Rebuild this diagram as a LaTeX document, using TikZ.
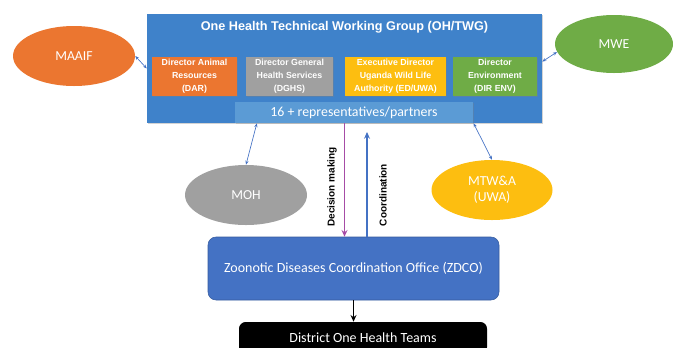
\documentclass[tikz,border=0pt]{standalone}
\usepackage{fontspec}
\setmainfont{Carlito}
\newfontfamily\arialfont{Liberation Sans}
\usetikzlibrary{arrows.meta,shapes.geometric,shadows}

\definecolor{twgblue}{HTML}{3F82CA}
\definecolor{repblue}{HTML}{5B9BD5}
\definecolor{zdcoblue}{HTML}{4472C4}
\definecolor{darorange}{HTML}{EB7630}
\definecolor{dghsgray}{HTML}{A0A0A0}
\definecolor{uwagold}{HTML}{FDBE10}
\definecolor{envgreen}{HTML}{6FAC46}
\definecolor{dmpurple}{HTML}{A64CA6}

\tikzset{
  dirbox/.style={draw=none, text=white, align=center, minimum height=29.25pt,
    inner sep=1pt, font=\arialfont\bfseries\fontsize{6.6}{9.6}\selectfont,
    drop shadow={opacity=0.35, shadow xshift=0.8pt, shadow yshift=-0.8pt}},
  partner/.style={ellipse, draw=none, text=white, inner sep=0pt,
    minimum width=91.5pt, minimum height=45pt, align=center,
    font=\fontsize{10.3}{12}\selectfont},
  link/.style={{Stealth[length=3pt,width=2.4pt]}-{Stealth[length=3pt,width=2.4pt]},
    draw=zdcoblue, line width=0.5pt},
  flow/.style={-{Stealth[length=5pt,width=4.4pt]}, line width=1.4pt},
  flowlabel/.style={rotate=90, font=\arialfont\bfseries\fontsize{7.5}{9}\selectfont}
}

\begin{document}
\begin{tikzpicture}[x=0.75pt,y=-0.75pt]
		%%%%% START %%%%%
		\useasboundingbox (0,0) rectangle (673,347);
		\clip (0,0) rectangle (673,347);

		% working group
		\node[fill=twgblue, minimum width=296.25pt, minimum height=81.75pt,
		  drop shadow={opacity=0.35, shadow xshift=1pt, shadow yshift=-1pt}] (twg) at (344.5,68.5) {};
		\node[text=white, font=\arialfont\bfseries\fontsize{9.5}{11}\selectfont] (title) at (344.5,27) {One Health Technical Working Group (OH/TWG)};

		\node[dirbox, fill=darorange, minimum width=63.75pt] (dar) at (194.5,76) {Director Animal\\Resources\\(DAR)};
		\node[dirbox, fill=dghsgray, minimum width=65.25pt] (dghs) at (289.5,76) {Director General\\Health Services\\(DGHS)};
		\node[dirbox, fill=uwagold, minimum width=75.75pt] (uwa) at (395.5,76) {Executive Director\\Uganda Wild Life\\Authority (ED/UWA)};
		\node[dirbox, fill=envgreen, minimum width=63pt] (env) at (495,76) {Director\\Environment\\(DIR ENV)};

		\node[fill=repblue, text=white, minimum width=178.5pt, minimum height=15.75pt, inner sep=0pt,
		  font=\fontsize{10.4}{12}\selectfont,
		  drop shadow={opacity=0.3, shadow xshift=0.8pt, shadow yshift=-0.8pt}] (reps) at (354,112.5) {16 + representatives/partners};

		% ministries
		\node[partner, fill=darorange] (maaif) at (74,56) {MAAIF};
		\node[partner, fill=envgreen, minimum width=88.5pt, minimum height=43.5pt] (mwe) at (614,44) {MWE};
		\node[partner, fill=dghsgray] (moh) at (246,195) {MOH};
		\node[partner, fill=uwagold, minimum width=90.75pt] (mtw) at (492,190) {MTW\&A\\(UWA)};

		\draw[link] (maaif.east) -- (twg.west);
		\draw[link] (mwe.188) -- (twg.2.5);
		\draw[link] (twg.212.5) -- (moh.north);
		\draw[link] (twg.-23.8) -- (mtw.north);

		% coordination office
		\node[fill=zdcoblue, draw=zdcoblue!80!black, line width=0.4pt, rounded corners=6pt, text=white,
		  minimum width=218.25pt, minimum height=47.25pt,
		  font=\fontsize{10.5}{12}\selectfont] (zdco) at (353.5,268.5) {Zoonotic Diseases Coordination Office (ZDCO)};
		\node[fill=black, rounded corners=5pt, text=white, minimum width=186pt, minimum height=24pt,
		  font=\fontsize{10.5}{12}\selectfont] (dist) at (363,338) {District One Health Teams};

		\coordinate (coordtop) at (367,132);
		\draw[flow, draw=dmpurple] (twg.south) -- (twg.south |- zdco.north);
		\draw[flow, draw=zdcoblue] (coordtop |- zdco.north) -- (coordtop);
		\draw[flow, draw=black] (zdco.south) -- (zdco.south |- dist.north);

		\node[flowlabel] (dmlabel) at (332,187) {Decision making};
		\node[flowlabel] (colabel) at (383,195) {Coordination};
		%%%%% END %%%%%
\end{tikzpicture}
\end{document}
